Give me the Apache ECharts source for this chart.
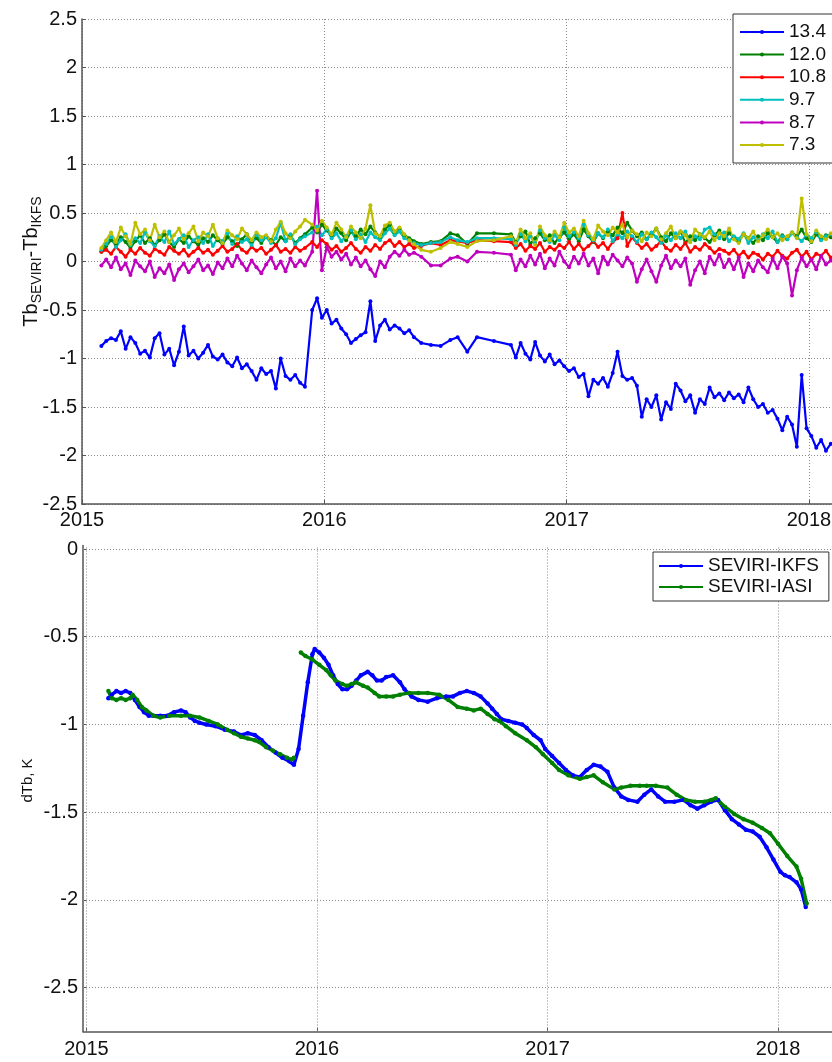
<!DOCTYPE html>
<html><head><meta charset="utf-8">
<script src="https://cdn.jsdelivr.net/npm/echarts@6/dist/echarts.min.js"></script>
<style>html,body{margin:0;padding:0;background:#fff}#c{width:832px;height:1062px}</style>
</head><body><div id="c"></div>
<script>
// ---------------- DATA: top panel (Tb_SEVIRI - Tb_IKFS per channel) ----------------
const topDates = [
 2015.08,2015.10,2015.12,2015.14,2015.16,2015.18,2015.20,2015.22,2015.24,2015.26,
 2015.28,2015.30,2015.32,2015.34,2015.36,2015.38,2015.40,2015.42,2015.44,2015.46,
 2015.48,2015.50,2015.52,2015.54,2015.56,2015.58,2015.60,2015.62,2015.64,2015.66,
 2015.68,2015.70,2015.72,2015.74,2015.76,2015.78,2015.80,2015.82,2015.84,2015.86,
 2015.88,2015.90,2015.92,
 2015.95,2015.97,2015.99,2016.01,2016.03,2016.05,2016.07,2016.09,2016.11,2016.13,
 2016.15,2016.17,2016.19,2016.21,2016.23,2016.25,2016.27,2016.29,2016.31,2016.33,
 2016.35,2016.37,
 2016.40,2016.44,2016.48,2016.52,2016.55,2016.59,2016.63,2016.70,
 2016.77,2016.79,2016.81,2016.83,2016.85,2016.87,2016.89,2016.91,2016.93,2016.95,
 2016.97,2016.99,2017.01,2017.03,2017.05,2017.07,2017.09,2017.11,2017.13,2017.15,
 2017.17,2017.19,2017.21,2017.23,2017.25,2017.27,2017.29,2017.31,2017.33,2017.35,
 2017.37,2017.39,2017.41,2017.43,2017.45,2017.47,2017.49,2017.51,2017.53,2017.55,
 2017.57,2017.59,2017.61,2017.63,2017.65,2017.67,2017.69,2017.71,2017.73,2017.75,
 2017.77,2017.79,2017.81,2017.83,2017.85,2017.87,2017.89,2017.91,2017.93,2017.95,
 2017.97,2017.99,2018.01,2018.03,2018.05,2018.07,2018.09
];
const ch134 = [
 -0.87,-0.82,-0.79,-0.81,-0.72,-0.90,-0.78,-0.84,-0.95,-0.92,
 -0.99,-0.79,-0.74,-0.96,-0.90,-1.07,-0.93,-0.67,-0.97,-0.92,
 -1.00,-0.94,-0.86,-0.98,-1.01,-0.96,-1.04,-1.08,-0.99,-1.10,
 -1.06,-1.13,-1.22,-1.10,-1.16,-1.13,-1.31,-1.00,-1.18,-1.22,
 -1.17,-1.25,-1.29,
 -0.50,-0.38,-0.58,-0.50,-0.64,-0.60,-0.69,-0.75,-0.84,-0.80,
 -0.76,-0.73,-0.41,-0.82,-0.66,-0.60,-0.70,-0.66,-0.69,-0.74,
 -0.71,-0.78,
 -0.84,-0.86,-0.87,-0.81,-0.78,-0.93,-0.78,-0.82,
 -0.86,-0.99,-0.84,-0.95,-1.01,-0.83,-0.97,-1.03,-0.96,-1.06,
 -1.02,-1.08,-1.13,-1.10,-1.19,-1.16,-1.39,-1.22,-1.26,-1.20,
 -1.29,-1.15,-0.93,-1.18,-1.22,-1.20,-1.28,-1.60,-1.42,-1.50,
 -1.38,-1.63,-1.45,-1.52,-1.26,-1.33,-1.44,-1.38,-1.56,-1.42,
 -1.47,-1.30,-1.40,-1.36,-1.43,-1.35,-1.41,-1.37,-1.45,-1.30,
 -1.42,-1.50,-1.47,-1.56,-1.53,-1.62,-1.74,-1.60,-1.68,-1.91,
 -1.17,-1.72,-1.80,-1.92,-1.84,-1.95,-1.88
];
const ch120 = [
 0.10,0.16,0.22,0.18,0.25,0.20,0.14,0.21,0.27,0.19,
 0.24,0.17,0.22,0.28,0.20,0.15,0.23,0.19,0.26,0.21,
 0.17,0.24,0.20,0.27,0.22,0.18,0.25,0.21,0.16,0.23,
 0.28,0.20,0.24,0.19,0.26,0.22,0.17,0.25,0.21,0.27,
 0.19,0.24,0.28,
 0.35,0.30,0.38,0.32,0.27,0.34,0.29,0.22,0.31,0.26,
 0.33,0.28,0.36,0.30,0.25,0.33,0.38,0.30,0.34,0.27,
 0.24,0.21,
 0.18,0.20,0.21,0.29,0.27,0.18,0.29,0.29,
 0.28,0.20,0.26,0.31,0.18,0.24,0.29,0.22,0.27,0.19,
 0.25,0.30,0.23,0.28,0.21,0.33,0.26,0.20,0.29,0.24,
 0.31,0.27,0.35,0.29,0.40,0.32,0.26,0.30,0.23,0.28,
 0.34,0.25,0.21,0.29,0.24,0.31,0.19,0.26,0.22,0.28,
 0.24,0.20,0.27,0.32,0.23,0.29,0.25,0.21,0.28,0.24,
 0.19,0.26,0.22,0.29,0.25,0.20,0.27,0.23,0.30,0.26,
 0.33,0.24,0.20,0.28,0.23,0.27,0.25
];
const ch108 = [
 0.10,0.12,0.08,0.15,0.10,0.05,0.12,0.08,0.14,0.09,
 0.06,0.13,0.10,0.07,0.15,0.11,0.08,0.12,0.06,0.10,
 0.14,0.09,0.12,0.07,0.11,0.16,0.10,0.13,0.18,0.12,
 0.09,0.15,0.11,0.14,0.08,0.12,0.17,0.10,0.13,0.09,
 0.15,0.11,0.14,
 0.20,0.15,0.22,0.18,0.12,0.16,0.10,0.14,0.19,0.13,
 0.09,0.15,0.11,0.17,0.13,0.19,0.22,0.16,0.20,0.15,
 0.18,0.14,
 0.16,0.19,0.17,0.22,0.21,0.19,0.22,0.21,
 0.20,0.14,0.18,0.11,0.16,0.13,0.19,0.10,0.15,0.12,
 0.17,0.14,0.20,0.13,0.18,0.12,0.16,0.21,0.15,0.19,
 0.13,0.20,0.24,0.50,0.16,0.25,0.19,0.14,0.18,0.12,
 0.16,0.21,0.14,0.11,0.17,0.13,0.19,0.10,0.15,0.12,
 0.18,0.14,0.09,0.13,0.11,0.08,0.12,0.06,0.10,0.04,
 0.09,0.07,0.02,0.08,0.05,0.11,0.06,0.03,0.09,0.12,
 0.05,0.10,0.02,0.08,0.06,0.11,0.04
];
const ch97 = [
 0.12,0.18,0.25,0.15,0.22,0.28,0.17,0.24,0.19,0.30,
 0.21,0.16,0.26,0.20,0.31,0.18,0.23,0.27,0.15,0.22,
 0.25,0.19,0.28,0.16,0.24,0.21,0.29,0.18,0.26,0.20,
 0.23,0.17,0.27,0.22,0.25,0.19,0.24,0.40,0.21,0.28,
 0.18,0.23,0.26,
 0.30,0.36,0.27,0.33,0.24,0.29,0.21,0.26,0.32,0.23,
 0.28,0.20,0.30,0.25,0.22,0.29,0.34,0.27,0.31,0.24,
 0.22,0.19,
 0.17,0.19,0.20,0.25,0.22,0.20,0.24,0.24,
 0.23,0.17,0.28,0.21,0.26,0.19,0.32,0.24,0.20,0.27,
 0.22,0.35,0.26,0.30,0.24,0.38,0.27,0.22,0.29,0.25,
 0.33,0.21,0.28,0.24,0.31,0.26,0.20,0.28,0.23,0.30,
 0.25,0.19,0.27,0.22,0.29,0.24,0.31,0.20,0.26,0.23,
 0.33,0.35,0.28,0.24,0.30,0.21,0.26,0.23,0.29,0.19,
 0.25,0.22,0.28,0.24,0.31,0.20,0.26,0.23,0.29,0.25,
 0.21,0.27,0.24,0.30,0.22,0.26,0.28
];
const ch87 = [
 -0.04,0.02,-0.06,0.04,-0.08,-0.02,-0.14,0.01,-0.05,-0.10,
 0.00,-0.16,-0.07,-0.12,-0.03,-0.19,-0.08,-0.02,-0.11,-0.05,
 0.02,-0.09,-0.04,-0.13,-0.01,-0.07,0.03,-0.05,0.06,-0.02,
 -0.09,0.01,-0.06,-0.12,-0.03,0.04,-0.07,0.00,-0.10,0.03,
 -0.05,0.01,-0.04,
 0.10,0.73,-0.09,0.15,0.05,0.10,0.02,0.08,-0.03,0.04,
 -0.05,0.01,-0.08,-0.15,0.00,-0.06,0.05,0.10,0.06,0.12,
 0.07,0.09,
 0.05,-0.04,-0.04,0.03,0.05,0.00,0.10,0.09,
 0.07,-0.09,0.02,-0.05,0.06,-0.03,0.08,-0.07,0.03,-0.04,
 0.10,0.00,-0.06,0.05,-0.02,0.08,-0.04,0.03,-0.12,0.05,
 -0.03,0.07,0.01,-0.05,0.04,-0.02,-0.21,-0.08,0.02,-0.10,
 -0.21,-0.04,0.06,-0.07,0.01,-0.05,0.03,-0.24,-0.09,0.00,
 -0.12,0.05,-0.03,0.07,-0.06,0.02,-0.08,0.04,-0.16,-0.02,
 -0.10,0.01,-0.06,-0.11,0.03,-0.07,0.05,-0.02,-0.35,-0.09,
 0.04,-0.05,0.02,-0.08,0.06,-0.03,0.01
];
const ch73 = [
 0.14,0.22,0.30,0.20,0.35,0.26,0.18,0.40,0.28,0.33,
 0.22,0.38,0.25,0.31,0.20,0.27,0.34,0.23,0.29,0.36,
 0.21,0.30,0.26,0.38,0.24,0.19,0.32,0.27,0.23,0.34,
 0.28,0.22,0.30,0.25,0.27,0.21,0.33,0.41,0.29,0.24,
 0.31,0.36,0.43,
 0.38,0.32,0.42,0.35,0.28,0.40,0.33,0.25,0.36,0.30,
 0.24,0.34,0.58,0.29,0.26,0.37,0.40,0.31,0.35,0.28,
 0.22,0.18,
 0.12,0.10,0.14,0.20,0.18,0.15,0.21,0.22,
 0.26,0.19,0.33,0.24,0.29,0.17,0.36,0.27,0.22,0.31,
 0.25,0.40,0.30,0.34,0.26,0.42,0.29,0.23,0.37,0.31,
 0.27,0.35,0.30,0.38,0.25,0.32,0.28,0.21,0.30,0.26,
 0.34,0.23,0.29,0.36,0.24,0.31,0.27,0.20,0.33,0.28,
 0.25,0.31,0.22,0.29,0.26,0.34,0.23,0.19,0.28,0.24,
 0.31,0.21,0.27,0.33,0.25,0.29,0.22,0.26,0.30,0.24,
 0.65,0.28,0.21,0.32,0.26,0.23,0.29
];
const topNames = ['13.4','12.0','10.8','9.7','8.7','7.3'];

// ---------------- DATA: bottom panel (smoothed dTb) ----------------
const ikfsDates = [
 2015.095,2015.11,2015.13,2015.15,2015.17,2015.19,2015.21,2015.23,2015.25,2015.27,
 2015.29,2015.32,2015.35,2015.38,2015.41,2015.43,2015.45,2015.47,2015.49,2015.52,
 2015.56,2015.60,2015.64,2015.67,2015.70,2015.73,2015.76,2015.79,2015.82,2015.85,
 2015.88,2015.90,2015.92,2015.94,2015.96,2015.98,2015.99,2016.01,2016.03,2016.05,
 2016.07,2016.09,2016.11,2016.13,2016.15,2016.17,2016.19,2016.22,2016.24,2016.26,
 2016.28,2016.30,2016.33,2016.36,2016.38,2016.41,2016.44,2016.48,2016.52,2016.56,
 2016.59,2016.62,2016.65,2016.68,2016.71,2016.74,2016.76,2016.78,2016.80,2016.83,
 2016.86,2016.89,2016.91,2016.94,2016.97,2016.99,2017.02,2017.05,2017.08,2017.11,
 2017.14,2017.17,2017.20,2017.23,2017.26,2017.29,2017.32,2017.35,2017.39,2017.42,
 2017.45,2017.48,2017.51,2017.55,2017.59,2017.62,2017.65,2017.68,2017.71,2017.74,
 2017.77,2017.80,2017.83,2017.86,2017.89,2017.92,2017.95,2017.98,2018.01,2018.03,
 2018.05,2018.08,2018.10,2018.12
];
const ikfsValues = [
 -0.85,-0.83,-0.81,-0.82,-0.81,-0.82,-0.86,-0.90,-0.93,-0.95,
 -0.95,-0.95,-0.95,-0.93,-0.92,-0.93,-0.96,-0.98,-0.99,-1.00,
 -1.01,-1.03,-1.04,-1.06,-1.05,-1.06,-1.09,-1.13,-1.16,-1.19,
 -1.21,-1.23,-1.14,-0.95,-0.76,-0.60,-0.57,-0.59,-0.62,-0.66,
 -0.72,-0.77,-0.80,-0.80,-0.78,-0.75,-0.72,-0.70,-0.72,-0.75,
 -0.75,-0.73,-0.72,-0.76,-0.80,-0.84,-0.86,-0.87,-0.85,-0.84,
 -0.84,-0.82,-0.81,-0.82,-0.84,-0.88,-0.91,-0.94,-0.97,-0.98,
 -0.99,-1.00,-1.02,-1.06,-1.09,-1.14,-1.18,-1.22,-1.26,-1.29,
 -1.30,-1.26,-1.23,-1.24,-1.27,-1.36,-1.41,-1.43,-1.44,-1.40,
 -1.37,-1.41,-1.44,-1.44,-1.43,-1.46,-1.48,-1.46,-1.44,-1.43,
 -1.49,-1.54,-1.57,-1.60,-1.61,-1.64,-1.70,-1.77,-1.84,-1.86,
 -1.87,-1.90,-1.94,-2.04
];
const iasiDates = [
 2015.095,2015.11,2015.13,2015.15,2015.17,2015.19,2015.20,2015.22,2015.24,2015.26,
 2015.29,2015.32,2015.36,2015.41,2015.45,2015.49,2015.53,2015.57,2015.61,2015.64,
 2015.67,2015.70,2015.73,2015.75,2015.78,2015.81,2015.84,2015.87,2015.89,2015.90,
 2015.915,
 2015.93,2015.95,2015.98,2016.01,2016.04,2016.06,2016.08,2016.11,2016.13,2016.15,
 2016.17,2016.20,2016.22,2016.25,2016.27,2016.30,2016.33,2016.36,2016.40,2016.44,
 2016.48,2016.53,2016.57,2016.61,2016.65,2016.68,2016.71,2016.74,2016.77,2016.79,
 2016.82,2016.86,2016.91,2016.95,2016.98,2017.02,2017.05,2017.09,2017.14,2017.17,
 2017.20,2017.24,2017.29,2017.32,2017.36,2017.40,2017.43,2017.47,2017.52,2017.56,
 2017.60,2017.64,2017.68,2017.71,2017.73,2017.77,2017.81,2017.85,2017.89,2017.93,
 2017.965,2018.00,2018.04,2018.08,2018.10,2018.124
];
const iasiValues = [
 -0.81,-0.85,-0.86,-0.85,-0.86,-0.85,-0.83,-0.86,-0.90,-0.92,
 -0.95,-0.96,-0.95,-0.95,-0.95,-0.96,-0.98,-1.00,-1.03,-1.05,
 -1.07,-1.08,-1.09,-1.10,-1.13,-1.15,-1.17,-1.19,-1.20,-1.19,
 null,
 -0.59,-0.61,-0.63,-0.66,-0.69,-0.72,-0.75,-0.77,-0.78,-0.77,
 -0.76,-0.78,-0.79,-0.82,-0.84,-0.84,-0.84,-0.83,-0.82,-0.82,
 -0.82,-0.83,-0.86,-0.90,-0.91,-0.92,-0.91,-0.94,-0.97,-0.98,
 -1.01,-1.05,-1.09,-1.13,-1.17,-1.22,-1.26,-1.29,-1.31,-1.30,
 -1.29,-1.33,-1.37,-1.36,-1.35,-1.35,-1.35,-1.35,-1.36,-1.40,
 -1.43,-1.44,-1.44,-1.43,-1.42,-1.47,-1.51,-1.54,-1.56,-1.59,
 -1.62,-1.68,-1.75,-1.81,-1.88,-2.02
];
const bottomNames = ['SEVIRI-IKFS','SEVIRI-IASI'];
const yearTicks = [2015, 2016, 2017, 2018];
const bottomYTicks = [0, -0.5, -1, -1.5, -2, -2.5];

// ---------------- STYLE ----------------
const FONT = "'Liberation Sans', Arial, Helvetica, sans-serif";
const TXT = '#111';
const GRIDC = '#8a8a8a';
const AXC = '#555';
const topColors = ['#0000ff','#008000','#ff0000','#00bfbf','#bf00bf','#bfbf00'];
const bottomColors = ['#0000ff','#008000'];

function pairs(xs, ys) {
  const n = Math.min(xs.length, ys.length), out = [];
  for (let i = 0; i < n; i++) out.push([xs[i], ys[i] === null ? '-' : ys[i]]);
  return out;
}
const yearFmt = v => (Math.abs(v - Math.round(v)) < 1e-6 ? String(Math.round(v)) : '');
const gridDash = [1, 2];

const topValues = [ch134, ch120, ch108, ch97, ch87, ch73];
const series = topNames.map((name, i) => ({
  name, type: 'line', xAxisIndex: 0, yAxisIndex: 0,
  data: pairs(topDates, topValues[i]),
  symbol: 'circle', symbolSize: 4, showSymbol: true, showAllSymbol: true,
  lineStyle: { width: 2.2, color: topColors[i] },
  itemStyle: { color: topColors[i] },
  emphasis: { disabled: true }, z: 2, clip: true, animation: false
}));
const bottomData = [pairs(ikfsDates, ikfsValues), pairs(iasiDates, iasiValues)];
bottomNames.forEach((name, i) => {
  const s = {
    name, type: 'line', xAxisIndex: 1, yAxisIndex: 1,
    data: bottomData[i],
    symbol: 'circle', symbolSize: 4.5, showSymbol: true, showAllSymbol: true,
    connectNulls: false,
    lineStyle: { width: 3.5, color: bottomColors[i] },
    itemStyle: { color: bottomColors[i] },
    emphasis: { disabled: true }, z: 3, clip: true, animation: false
  };
  if (i === 0) {
    s.markLine = {
      silent: true, symbol: ['none', 'none'], z: 1, animation: false,
      label: { show: false }, emphasis: { disabled: true },
      lineStyle: { color: GRIDC, type: gridDash, width: 1 },
      data: bottomYTicks.map(v => ({ yAxis: v })).concat(yearTicks.map(v => ({ xAxis: v })))
    };
  }
  series.push(s);
});

const tickLabel = { fontFamily: FONT, fontSize: 20, color: TXT };
const option = {
  animation: false,
  backgroundColor: '#fff',
  textStyle: { fontFamily: FONT },
  grid: [
    { left: 82, top: 19, right: 0, height: 485, containLabel: false, outerBoundsMode: 'none' },
    { left: 83, top: 545.5, right: 0, height: 486, containLabel: false, outerBoundsMode: 'none' }
  ],
  xAxis: [
    { type: 'value', gridIndex: 0, min: 2015, max: 2018.095, interval: 1,
      axisLine: { show: true, onZero: false, lineStyle: { color: AXC, width: 1.5 } },
      axisTick: { show: true, inside: true, length: 4, lineStyle: { color: AXC } },
      axisLabel: Object.assign({ margin: 6, formatter: yearFmt }, tickLabel),
      splitLine: { show: true, lineStyle: { color: GRIDC, type: gridDash, width: 1 } } },
    { type: 'value', gridIndex: 1, min: 2014.985, max: 2018.234,
      axisLine: { show: true, onZero: false, lineStyle: { color: AXC, width: 1.5 } },
      axisTick: { show: true, inside: true, length: 4, customValues: yearTicks, lineStyle: { color: AXC } },
      axisLabel: Object.assign({ margin: 8, customValues: yearTicks, formatter: v => String(v) }, tickLabel),
      splitLine: { show: false } }
  ],
  yAxis: [
    { type: 'value', gridIndex: 0, min: -2.5, max: 2.5, interval: 0.5,
      name: '{m|Tb}{s|SEVIRI}{m|-Tb}{s|IKFS}', nameLocation: 'middle', nameGap: 41, nameMoveOverlap: false,
      nameTextStyle: { rich: {
        m: { fontFamily: FONT, fontSize: 20, color: TXT, lineHeight: 20 },
        s: { fontFamily: FONT, fontSize: 14, color: TXT, lineHeight: 14, padding: [12, 0, 0, 0] } } },
      axisLine: { show: true, onZero: false, lineStyle: { color: AXC, width: 1.5 } },
      axisTick: { show: true, inside: true, length: 4, lineStyle: { color: AXC } },
      axisLabel: Object.assign({ margin: 5 }, tickLabel),
      splitLine: { show: true, lineStyle: { color: GRIDC, type: gridDash, width: 1 } } },
    { type: 'value', gridIndex: 1, min: -2.75, max: 0.02,
      name: 'dTb, K', nameLocation: 'middle', nameGap: 48, nameMoveOverlap: false,
      nameTextStyle: { fontFamily: FONT, fontSize: 15, color: TXT, padding: [0, 0, 0, 16] },
      axisLine: { show: true, onZero: false, lineStyle: { color: AXC, width: 1.5 } },
      axisTick: { show: true, inside: true, length: 4, customValues: bottomYTicks, lineStyle: { color: AXC } },
      axisLabel: Object.assign({ margin: 5, customValues: bottomYTicks }, tickLabel),
      splitLine: { show: false } }
  ],
  legend: [
    { data: topNames, orient: 'vertical', left: 733, top: 14,
      itemWidth: 44, itemHeight: 5, itemGap: 3.6, padding: [8.5, 7, 8.5, 6],
      backgroundColor: '#fff', borderColor: '#333', borderWidth: 1, borderRadius: 0,
      textStyle: { fontFamily: FONT, fontSize: 19, color: TXT }, selectedMode: false },
    { data: bottomNames, orient: 'vertical', left: 653, top: 552,
      itemWidth: 44, itemHeight: 5, itemGap: 2, padding: [4.5, 10, 4.5, 5],
      backgroundColor: '#fff', borderColor: '#333', borderWidth: 1, borderRadius: 0,
      textStyle: { fontFamily: FONT, fontSize: 19, color: TXT }, selectedMode: false }
  ],
  series
};
const chart = echarts.init(document.getElementById('c'), null, { renderer: 'canvas', width: 832, height: 1062 });
chart.setOption(option);
</script>
</body></html>
